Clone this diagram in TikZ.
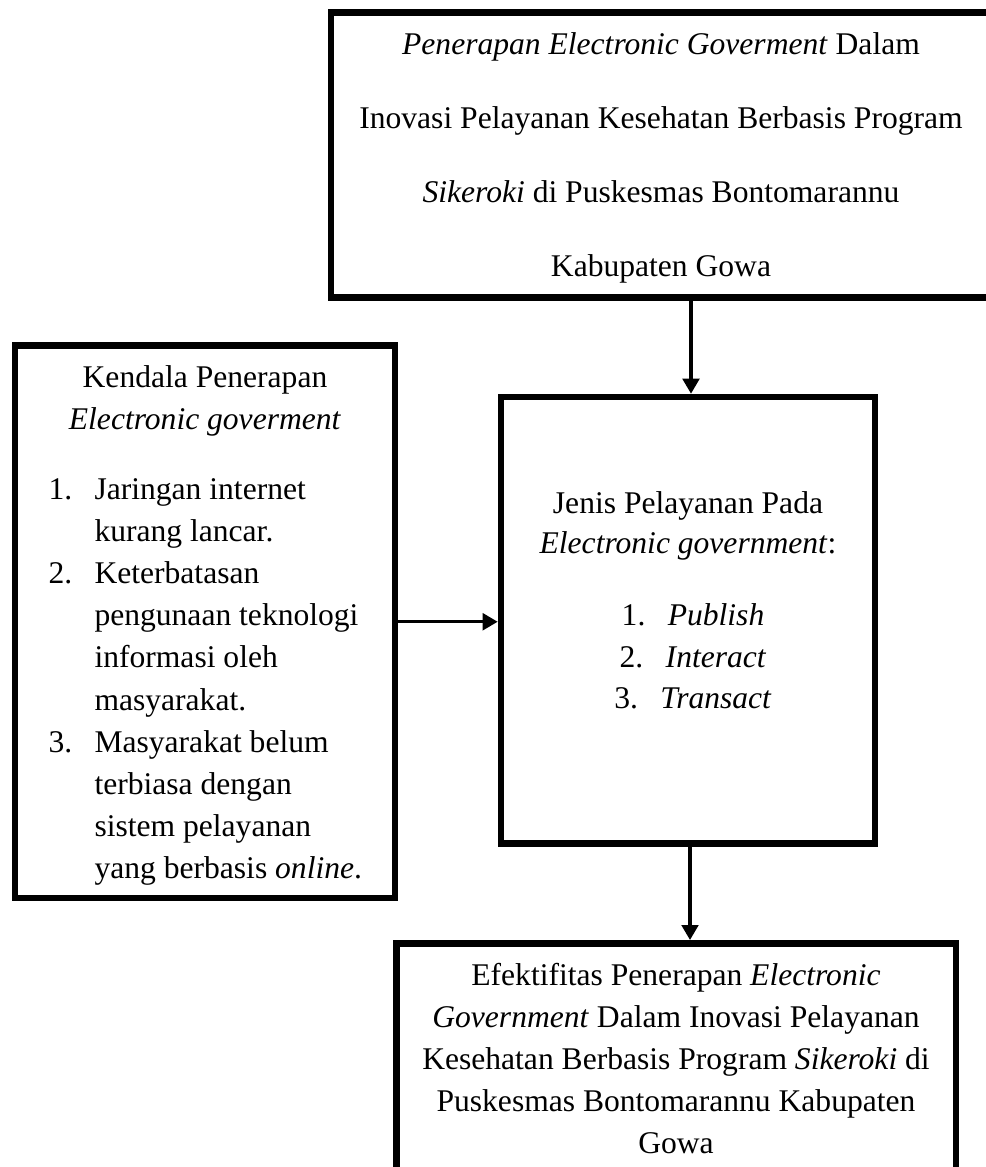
\documentclass[tikz,border=0pt]{standalone}
\usepackage{fontspec}
\setmainfont{Liberation Serif}
\usetikzlibrary{arrows.meta,fit}
\tikzset{
  box/.style={draw=black, line width=2.5pt, inner sep=0pt, fill=none},
  arr/.style={line width=1.25pt, -{Triangle[length=5.7pt,width=6.3pt]}},
  txt/.style={inner sep=0pt, anchor=base, font=\fontsize{12pt}{14pt}\selectfont},
  txtl/.style={txt, anchor=base west},
}
\begin{document}
\begin{tikzpicture}[x=0.38pt,y=-0.38pt]
\useasboundingbox (0,0) rectangle (986,1167);
\clip (0,0) rectangle (986,1167);
% boxes
\node[box, fit={(331,12.5)(990,297.5)}] (topbox) {};
\node[box, fit={(15,345.5)(395,898)}] (leftbox) {};
\node[box, fit={(501,397)(875,843.5)}] (midbox) {};
\node[box, fit={(396.7,943.3)(956,1210)}] (botbox) {};
% top box text
\node[txt] (t1) at (661,54.3) {\textit{Penerapan Electronic Goverment} Dalam};
\node[txt] (t2) at (661,128.5) {Inovasi Pelayanan Kesehatan Berbasis Program};
\node[txt] (t3) at (661,202.7) {\textit{Sikeroki} di Puskesmas Bontomarannu};
\node[txt] (t4) at (661,276.9) {Kabupaten Gowa};
% left box text
\node[txt] (l1) at (205,387.5) {Kendala Penerapan};
\node[txt] (l2) at (205,429.5) {\textit{Electronic goverment}};
\node[txtl] (n1) at (48,499) {1.};
\node[txtl] (l3) at (94,499) {Jaringan internet};
\node[txtl] (l4) at (94,541.2) {kurang lancar.};
\node[txtl] (n2) at (48,583.4) {2.};
\node[txtl] (l5) at (94,583.4) {Keterbatasan};
\node[txtl] (l6) at (94,625.6) {pengunaan teknologi};
\node[txtl] (l7) at (94,667.8) {informasi oleh};
\node[txtl] (l8) at (94,710) {masyarakat.};
\node[txtl] (n3) at (48,752.2) {3.};
\node[txtl] (l9) at (94,752.2) {Masyarakat belum};
\node[txtl] (l10) at (94,794.4) {terbiasa dengan};
\node[txtl] (l11) at (94,836.6) {sistem pelayanan};
\node[txtl] (l12) at (94,878.8) {yang berbasis \textit{online}.};
% middle box text
\node[txt] (m1) at (688,513) {Jenis Pelayanan Pada};
\node[txt] (m2) at (688,553) {\textit{Electronic government}:};
\node[txt] (m3) at (693,625) {\makebox[17.5pt][l]{1.}\textit{Publish}};
\node[txt] (m4) at (693,667) {\makebox[17.5pt][l]{2.}\textit{Interact}};
\node[txt] (m5) at (693,708) {\makebox[17.5pt][l]{3.}\textit{Transact}};
% bottom box text
\node[txt] (b1) at (676,985) {Efektifitas Penerapan \textit{Electronic}};
\node[txt] (b2) at (676,1027) {\textit{Government} Dalam Inovasi Pelayanan};
\node[txt] (b3) at (676,1069) {Kesehatan Berbasis Program \textit{Sikeroki} di};
\node[txt] (b4) at (676,1111) {Puskesmas Bontomarannu Kabupaten};
\node[txt] (b5) at (676,1153) {Gowa};
% connectors
\coordinate (ax) at (691,0);
\coordinate (bx) at (690,0);
\draw[arr] (topbox.south -| ax) -- (midbox.north -| ax);
\draw[arr] (leftbox.east) -- (leftbox.east -| midbox.west);
\draw[arr] (midbox.south -| bx) -- (botbox.north -| bx);
\end{tikzpicture}
\end{document}
